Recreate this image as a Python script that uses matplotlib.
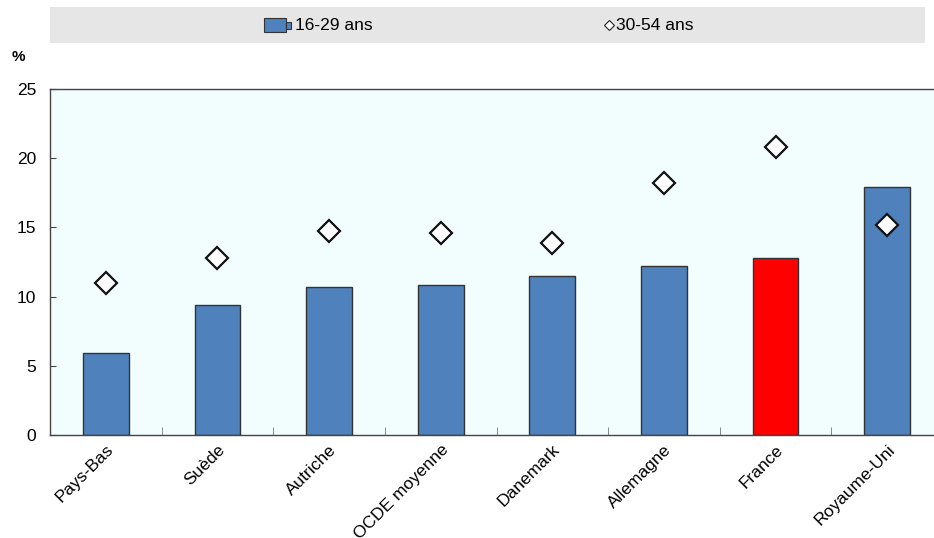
import matplotlib
matplotlib.use("Agg")
import matplotlib.pyplot as plt
from matplotlib.patches import Rectangle
import numpy as np

plt.rcParams['font.family'] = ['Liberation Sans', 'DejaVu Sans']

categories = ["Pays-Bas", "Suède", "Autriche", "OCDE moyenne", "Danemark",
              "Allemagne", "France", "Royaume-Uni"]
young_16_29 = [5.9, 9.4, 10.7, 10.85, 11.5, 12.2, 12.8, 17.95]
adult_30_54 = [11.0, 12.8, 14.75, 14.6, 13.9, 18.2, 20.8, 15.2]
y_ticks = [0, 5, 10, 15, 20, 25]

BLUE = "#4F81BD"
RED = "#FF0000"
highlight = "France"

W, H = 934, 538
fig = plt.figure(figsize=(W / 100, H / 100), dpi=100)
fig.patch.set_facecolor("white")

# plot area (right edge runs slightly past the canvas)
left, right, top, bottom = 50, 943, 89, 435
ax = fig.add_axes([left / W, 1 - bottom / H, (right - left) / W, (bottom - top) / H])
ax.set_facecolor("#F2FEFE")

x = np.arange(len(categories))
colors = [RED if c == highlight else BLUE for c in categories]
ax.bar(x, young_16_29, width=0.41, color=colors, edgecolor="#333333", linewidth=1.0, zorder=2)
ax.plot(x, adult_30_54, linestyle="none", marker="D", markersize=11,
        markerfacecolor="white", markeredgecolor="#111111", markeredgewidth=1.6, zorder=3)

ax.set_xlim(-0.5, len(categories) - 0.5)
ax.set_ylim(0, 25)
ax.set_yticks(y_ticks)
ax.set_yticklabels([str(t) for t in y_ticks], fontsize=12.5)
ax.set_xticks(x)
ax.set_xticklabels(categories, rotation=45, ha="right", rotation_mode="anchor", fontsize=12.5)
ax.tick_params(axis="x", length=0, pad=5)
ax.tick_params(axis="y", direction="in", length=4, color="#444444", pad=10)
ax.set_xticks(np.arange(len(categories) + 1) - 0.5, minor=True)
ax.tick_params(axis="x", which="minor", direction="in", length=6, color="#777777")

for s in ax.spines.values():
    s.set_color("#444444")
    s.set_linewidth(1.0)

# unit label
fig.text(12 / W, 1 - 57 / H, "%", fontsize=11, fontweight="bold", va="center", ha="left")

# legend band
fig.patches.append(Rectangle((50 / W, 1 - 43 / H), 875 / W, 36 / H,
                             transform=fig.transFigure, facecolor="#E6E6E6",
                             edgecolor="none", zorder=0))
ly = 1 - 25 / H
fig.patches.append(Rectangle((264 / W, ly - 7 / H), 22 / W, 14 / H,
                             transform=fig.transFigure, facecolor=BLUE,
                             edgecolor="#333333", linewidth=0.8, zorder=1))
fig.patches.append(Rectangle((286 / W, ly - 3.5 / H), 5 / W, 7 / H,
                             transform=fig.transFigure, facecolor=BLUE,
                             edgecolor="#333333", linewidth=0.8, zorder=1))
fig.text(295 / W, ly, "16-29 ans", fontsize=12.5, va="center", ha="left")
fig.lines.append(plt.Line2D([609 / W], [ly], transform=fig.transFigure, marker="D",
                            markersize=5.5, markerfacecolor="white",
                            markeredgecolor="#222222", markeredgewidth=0.8))
fig.text(616 / W, ly, "30-54 ans", fontsize=12.5, va="center", ha="left")

fig.savefig("out.png", dpi=100)
